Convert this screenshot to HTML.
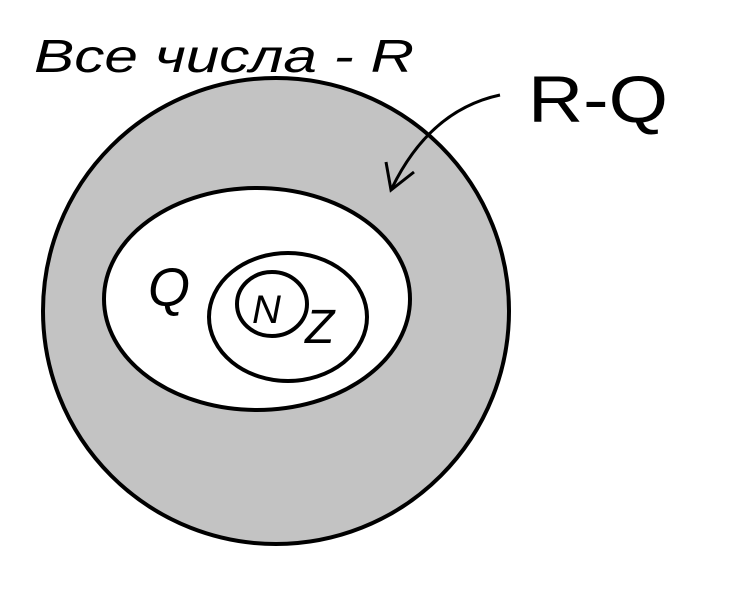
<!DOCTYPE html>
<html><head><meta charset="utf-8"><style>
html,body{margin:0;padding:0;background:#fff;}
svg{display:block}
text{font-family:"Liberation Sans","DejaVu Sans",sans-serif;fill:#000}
</style></head><body>
<svg width="746" height="589" viewBox="0 0 746 589" xmlns="http://www.w3.org/2000/svg">
<rect width="746" height="589" fill="#fff"/>
<ellipse cx="276" cy="311" rx="233" ry="233" fill="#c3c3c3" stroke="#000" stroke-width="4"/>
<ellipse cx="257" cy="299" rx="153" ry="111" fill="#fff" stroke="#000" stroke-width="4"/>
<ellipse cx="288" cy="317" rx="79" ry="64" fill="#fff" stroke="#000" stroke-width="4"/>
<ellipse cx="272" cy="304" rx="35" ry="32" fill="#fff" stroke="#000" stroke-width="4"/>
<text x="34" y="72" font-size="46" font-style="italic" textLength="380" lengthAdjust="spacingAndGlyphs">Все числа - R</text>
<text x="528" y="122" font-size="66" textLength="140" lengthAdjust="spacingAndGlyphs">R-Q</text>
<text x="148" y="306" font-size="54" font-style="italic">Q</text>
<text x="252" y="323" font-size="40" font-style="italic">N</text>
<text x="305" y="343" font-size="48" font-style="italic">Z</text>
<path d="M500 95 Q430 110 392 188" fill="none" stroke="#000" stroke-width="3"/>
<path d="M386 162 L391 190 L414 172" fill="none" stroke="#000" stroke-width="3"/>
</svg>
</body></html>
